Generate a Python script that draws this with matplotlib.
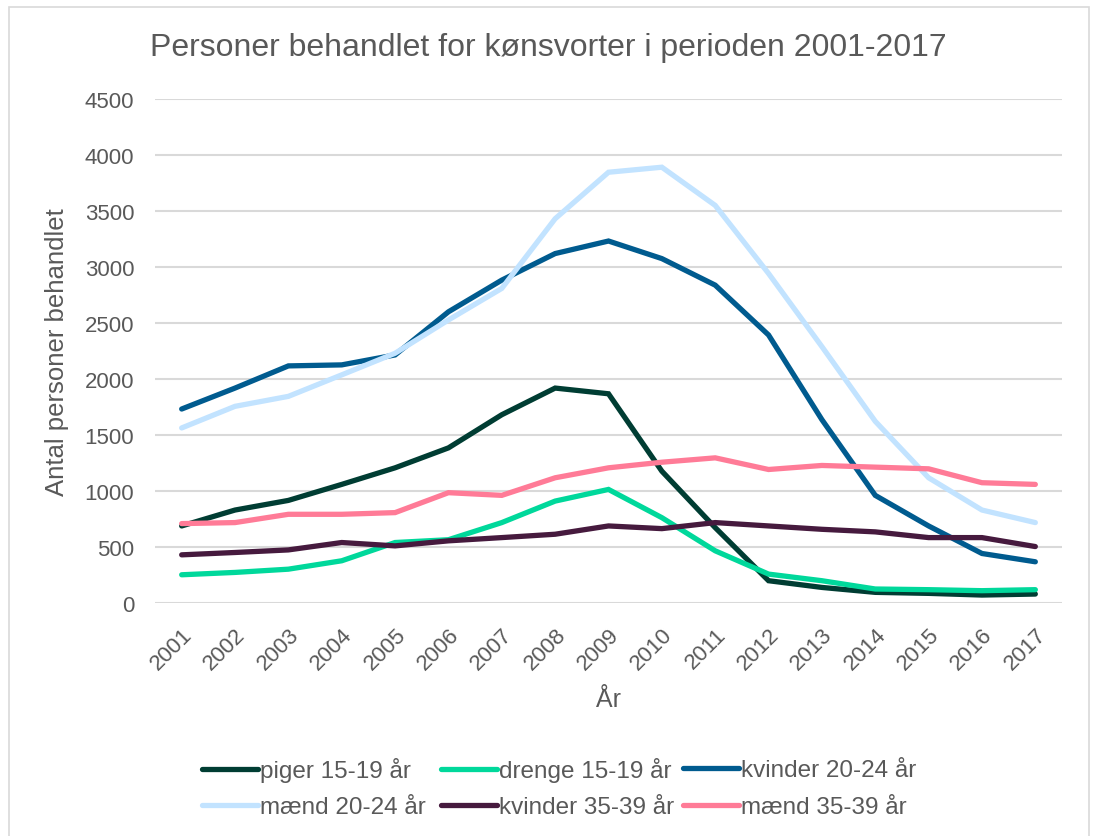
import matplotlib
matplotlib.use("Agg")
import matplotlib.pyplot as plt
from matplotlib.patches import Rectangle

plt.rcParams['font.family'] = ['Liberation Sans', 'DejaVu Sans']

years = [str(y) for y in range(2001, 2018)]
piger_15_19 = [688, 830, 916, 1059, 1207, 1385, 1681, 1919, 1868, 1177, 673, 199, 139, 95, 86, 71, 80]
drenge_15_19 = [252, 273, 302, 377, 540, 565, 718, 910, 1014, 762, 466, 258, 199, 125, 119, 110, 119]
kvinder_20_24 = [1732, 1919, 2117, 2126, 2215, 2600, 2883, 3120, 3232, 3075, 2838, 2393, 1637, 961, 688, 442, 368]
maend_20_24 = [1563, 1756, 1845, 2037, 2230, 2527, 2809, 3431, 3846, 3891, 3550, 2942, 2289, 1622, 1118, 830, 718]
kvinder_35_39 = [430, 451, 474, 540, 510, 555, 584, 614, 688, 664, 718, 688, 658, 635, 584, 584, 504]
maend_35_39 = [709, 718, 792, 792, 807, 985, 961, 1118, 1207, 1257, 1296, 1192, 1228, 1213, 1198, 1074, 1059]

series = [
    ("piger 15-19 år", piger_15_19, "#003D33"),
    ("drenge 15-19 år", drenge_15_19, "#00D89B"),
    ("kvinder 20-24 år", kvinder_20_24, "#005B8F"),
    ("mænd 20-24 år", maend_20_24, "#C2E3FF"),
    ("kvinder 35-39 år", kvinder_35_39, "#461A3E"),
    ("mænd 35-39 år", maend_35_39, "#FF7B97"),
]

TXT = '#595959'
W, H = 1096, 837
fig = plt.figure(figsize=(W / 100, H / 100), dpi=100)
ax = fig.add_axes([155 / W, 1 - 604 / H, 907 / W, 504 / H])

x = list(range(len(years)))
handles = []
for name, vals, col in series:
    h, = ax.plot(x, vals, color=col, lw=3.8, label=name, solid_capstyle='round', solid_joinstyle='miter')
    handles.append(h)

ax.set_xlim(-0.5, len(years) - 0.5)
ax.set_ylim(0, 4500)
ax.set_yticks(range(0, 4501, 500))
ax.set_xticks(x)
ax.set_xticklabels(years, rotation=45, ha='right', va='top', rotation_mode='anchor')
ax.tick_params(axis='both', length=0, labelsize=16, colors=TXT)
ax.tick_params(axis='x', pad=15)
ax.tick_params(axis='y', pad=15)
ax.grid(axis='y', color='#D9D9D9', lw=1.5)
ax.set_axisbelow(True)
for s in ax.spines.values():
    s.set_visible(False)

fig.text(0.5, 1 - 48 / H, "Personer behandlet for kønsvorter i perioden 2001-2017",
         fontsize=23, color=TXT, ha='center', va='center')
ax.set_xlabel("År", fontsize=18, color=TXT)
ax.xaxis.set_label_coords(0.5, -(700 - 604) / 504)
ax.xaxis.label.set_va('center')
ax.set_ylabel("Antal personer behandlet", fontsize=18.5, color=TXT)
ax.yaxis.set_label_coords(-(155 - 57) / 907, 0.5)
ax.yaxis.label.set_va('center')

# legend: 3 columns x 2 rows, row-major order as in the reference
col_x = [202, 441, 683]
row_y = [771, 808]
for i, h in enumerate(handles):
    r, c = divmod(i, 3)
    leg = fig.legend([h], [series[i][0]], loc='center left',
                     bbox_to_anchor=(col_x[c] / W, 1 - row_y[r] / H), frameon=False,
                     fontsize=17.5, handlelength=2.3, handletextpad=0.08,
                     borderpad=0, borderaxespad=0)
    for t in leg.get_texts():
        t.set_color(TXT)

fig.patches.append(Rectangle((9 / W, -0.01), 1080 / W, 1.01 - 8 / H, transform=fig.transFigure,
                             fill=False, edgecolor='#D9D9D9', lw=1.2))

fig.savefig("out.png", dpi=100, facecolor='white')
